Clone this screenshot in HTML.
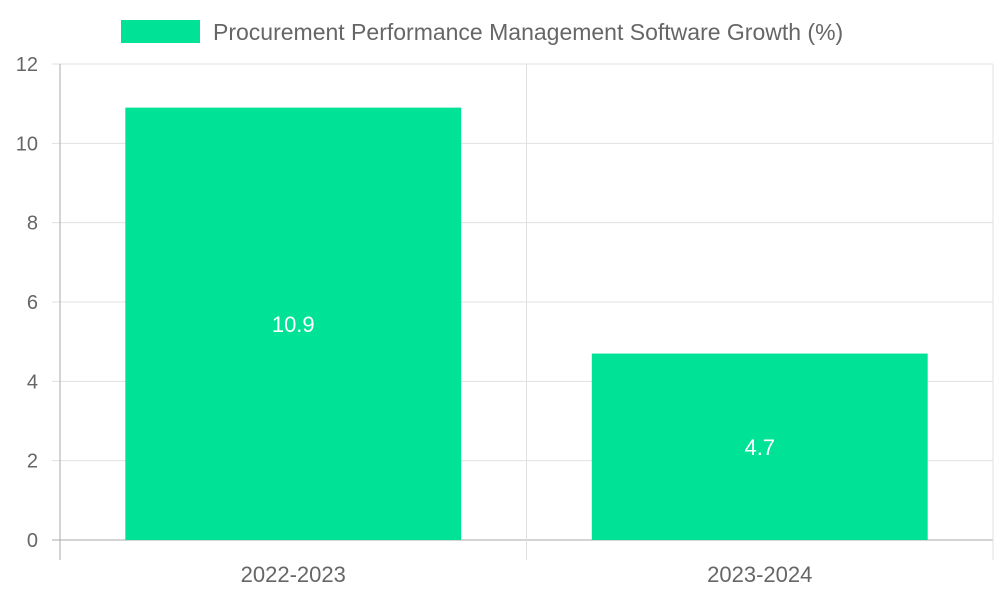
<!DOCTYPE html>
<html><head><meta charset="utf-8"><style>
body{margin:0;background:#fff}
svg{display:block;font-family:"Liberation Sans",sans-serif}
</style></head><body>
<svg id="chart" width="1000" height="600">
<g id="legend">
<rect x="121" y="20" width="79" height="23" fill="#00e396"></rect>
<text x="213" y="40" font-size="23" fill="#666">Procurement Performance Management Software Growth (%)</text>
</g>
<g id="grid"></g><g id="bars"></g><g id="labels"></g>
</svg>
<script>
const categories=["2022-2023","2023-2024"];
const values=[10.9,4.7];
const yTicks=[0,2,4,6,8,10,12];
const X0=60,X1=993,Y0=540,Y1=64,YMAX=12;
const y=v=>Y0-(v/YMAX)*(Y0-Y1);
const band=(X1-X0)/categories.length;
const ns="http://www.w3.org/2000/svg";
function mk(t,a,p,txt){const e=document.createElementNS(ns,t);for(const k in a)e.setAttribute(k,a[k]);if(txt!==undefined)e.textContent=txt;p.appendChild(e);return e;}
const grid=document.getElementById('grid'),bars=document.getElementById('bars'),labels=document.getElementById('labels');
yTicks.forEach(t=>{
const l=mk('line',{x1:X0-8,x2:X1,y1:y(t),y2:y(t),stroke:t===0?'#aaa':'#e0e0e0','stroke-width':1},grid);


const tx=mk('text',{x:38,y:y(t)+7,'text-anchor':'end','font-size':20,fill:'#666'},grid,String(t));


});
for(let i=0;i<=categories.length;i++){
const x=X0+i*band;
const l=mk('line',{x1:x,x2:x,y1:Y1,y2:Y0+20,stroke:i===0?'#aaa':'#e0e0e0','stroke-width':1},grid);


}
categories.forEach((c,i)=>{
const cx=X0+band*(i+0.5),w=band*0.72;
const r=mk('rect',{x:cx-w/2,y:y(values[i]),width:w,height:Y0-y(values[i]),fill:'#00e396'},bars);


const v=mk('text',{x:cx,y:(y(values[i])+Y0)/2+8,'text-anchor':'middle','font-size':22,fill:'#fff'},labels,String(values[i]));


const xl=mk('text',{x:cx,y:582,'text-anchor':'middle','font-size':22,fill:'#666'},labels,c);


});
</script>
</body></html>
